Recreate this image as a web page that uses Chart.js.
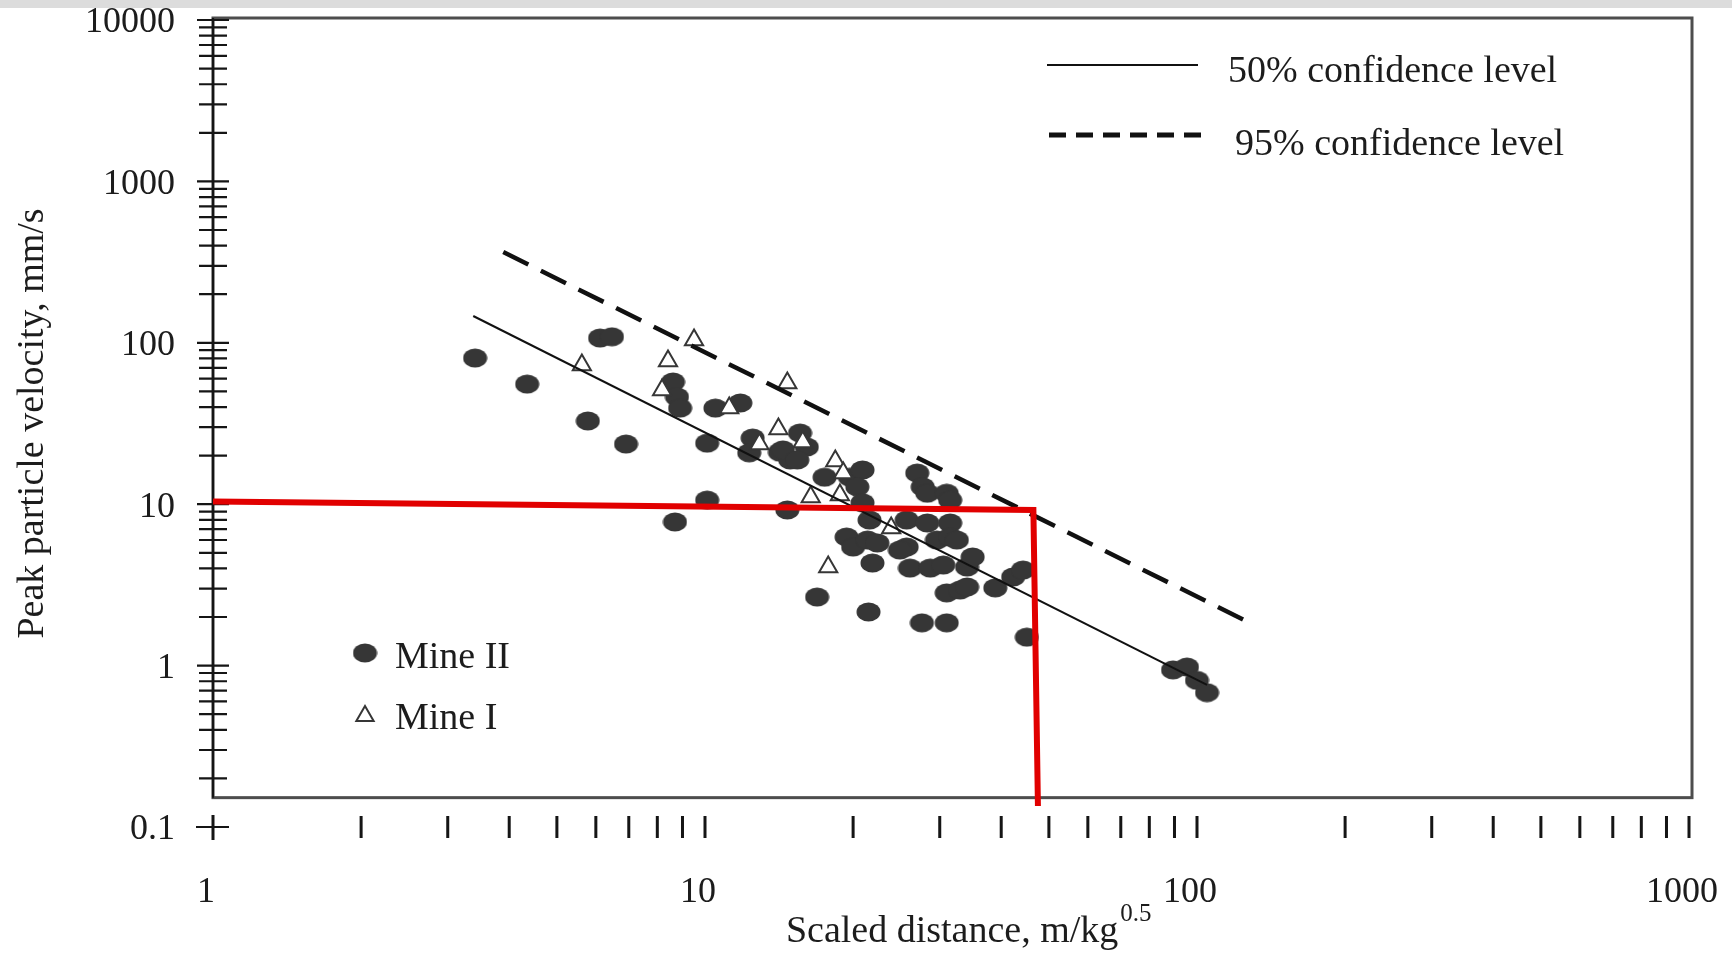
<!DOCTYPE html>
<html>
<head>
<meta charset="utf-8">
<script src="https://cdn.jsdelivr.net/npm/chart.js@4.4.1/dist/chart.umd.min.js"></script>
<style>
  html, body { margin: 0; padding: 0; background: #fff; }
  #wrap { position: relative; width: 1732px; height: 956px; }
  #band { position: absolute; left: 0; top: 0; width: 1732px; height: 8px; background: #dcdcdc; }
</style>
</head>
<body>
<div id="wrap">
  <canvas id="ppvChart" width="1732" height="956"></canvas>
  <div id="band"></div>
</div>
<script>
// axis ticks
const xTicks = [1, 10, 100, 1000];
const yTicks = [0.1, 1, 10, 100, 1000, 10000];

// Mine II (filled dots) - scaled distance / PPV
const mine2X = [3.41, 4.35, 6.12, 6.47, 5.78, 6.91, 8.61, 8.77, 8.90, 10.5, 11.8, 10.1, 12.5, 12.3, 14.2, 14.9,
  10.1, 8.69, 14.7, 14.4, 15.6, 16.1, 15.4, 17.5, 19.7, 20.9, 20.4, 20.9, 19.4, 20.0, 21.6, 21.4, 22.4, 16.9,
  21.9, 21.5, 27.6, 31.0, 27.0, 27.7, 28.3, 31.0, 31.5, 25.7, 28.3, 31.5, 29.6, 31.5, 32.5, 25.7, 24.9, 26.1,
  28.7, 30.5, 34.1, 35.0, 31.0, 33.0, 34.1, 38.9, 42.3, 44.3, 45.1, 89.4, 95.4, 100, 104.8];
const mine2Y = [80.5, 55.5, 107, 109, 32.8, 23.6, 57.2, 46.2, 39.4, 39.4, 42.4, 23.9, 25.7, 20.8, 21.0, 18.8,
  10.6, 7.76, 9.21, 21.7, 27.6, 22.6, 18.8, 14.7, 14.7, 16.3, 12.8, 10.2, 6.26, 5.43, 7.98, 6.0, 5.75, 2.66,
  4.32, 2.15, 1.84, 1.84, 15.6, 12.8, 11.7, 11.7, 10.6, 7.98, 7.65, 7.65, 6.0, 6.26, 6.0, 5.43, 5.20, 4.02,
  4.02, 4.20, 4.08, 4.71, 2.82, 2.94, 3.07, 3.03, 3.54, 3.91, 1.50, 0.94, 0.98, 0.81, 0.68];

// Mine I (open triangles)
const mine1X = [5.62, 8.41, 8.18, 9.50, 11.2, 14.7, 14.1, 12.9, 15.8, 18.4, 19.1, 16.4, 18.8, 23.9, 17.8];
const mine1Y = [72.9, 77.1, 51.0, 104, 39.4, 56.4, 29.2, 23.6, 24.3, 18.5, 15.6, 11.1, 11.4, 7.12, 4.08];

// regression lines
const fit50X = [3.38, 104.8];
const fit50Y = [146.6, 0.759];
const fit95X = [3.89, 125.8];
const fit95Y = [365, 1.89];

// red read-off line
const limitX = [1, 46.5, 47.5];
const limitY = [10.4, 9.2, 0.135];

const pts = (xs, ys) => xs.map((v, i) => ({ x: v, y: ys[i] }));
const serif = '"Liberation Serif", "Times New Roman", serif';
const ink = '#1c1c1c';
const dotColor = '#363636';

// ellipse marker for Mine II
const dot = document.createElement('canvas');
dot.width = 25; dot.height = 20;
const dc = dot.getContext('2d');
dc.fillStyle = dotColor;
dc.beginPath();
dc.ellipse(12.5, 10, 12, 9.5, 0, 0, Math.PI * 2);
dc.fill();

const decor = {
  id: 'decor',
  beforeDatasetsDraw(chart) {
    const { ctx, scales: { x, y } } = chart;
    const ax = x.getPixelForValue(1);
    const y0 = y.getPixelForValue(0.1);
    const fr = x.getPixelForValue(1000) + 3;
    const ft = y.getPixelForValue(10000) - 2;
    const fb = y.getPixelForValue(0.152);
    ctx.save();
    ctx.strokeStyle = '#4d4d4d';
    ctx.lineWidth = 3;
    ctx.strokeRect(ax, ft, fr - ax, fb - ft);

    ctx.strokeStyle = '#151515';
    ctx.lineWidth = 2.2;
    ctx.beginPath();
    ctx.moveTo(ax, ft); ctx.lineTo(ax, fb);
    [0.1, 1, 10, 100, 1000].forEach(d => {
      for (let m = 2; m <= 10; m++) {
        const py = y.getPixelForValue(d * m);
        const h = m === 10 ? 16 : 14;
        ctx.moveTo(ax - h, py); ctx.lineTo(ax + h, py);
      }
    });
    ctx.moveTo(ax - 17, y0); ctx.lineTo(ax + 16, y0);
    ctx.stroke();

    ctx.lineWidth = 3;
    ctx.beginPath();
    ctx.moveTo(ax, y0 - 12); ctx.lineTo(ax, y0 + 13);
    [1, 10, 100].forEach(d => {
      for (let m = 2; m <= 10; m++) {
        const px = x.getPixelForValue(d * m);
        ctx.moveTo(px, y0 - 11); ctx.lineTo(px, y0 + 11);
      }
    });
    ctx.stroke();
    ctx.restore();
  },
  afterDraw(chart) {
    const { ctx, chartArea: a } = chart;
    ctx.save();
    ctx.fillStyle = ink;
    ctx.font = '38px ' + serif;
    ctx.textAlign = 'left';
    ctx.textBaseline = 'middle';

    // line legend
    ctx.strokeStyle = '#111';
    ctx.lineWidth = 2;
    ctx.beginPath(); ctx.moveTo(1047, 65); ctx.lineTo(1198, 65); ctx.stroke();
    ctx.fillText('50% confidence level', 1228, 72);
    ctx.lineWidth = 5;
    ctx.setLineDash([17, 10]);
    ctx.beginPath(); ctx.moveTo(1049, 135); ctx.lineTo(1202, 135); ctx.stroke();
    ctx.setLineDash([]);
    ctx.fillText('95% confidence level', 1235, 145);

    // marker legend
    ctx.drawImage(dot, 365 - 12.5, 653 - 10);
    ctx.fillText('Mine II', 395, 658);
    const r = 10, tx = 365, ty = 716;
    ctx.lineWidth = 2;
    ctx.strokeStyle = dotColor;
    ctx.fillStyle = '#fff';
    ctx.beginPath();
    ctx.moveTo(tx, ty - r);
    ctx.lineTo(tx + r * 0.866, ty + r * 0.5);
    ctx.lineTo(tx - r * 0.866, ty + r * 0.5);
    ctx.closePath();
    ctx.fill(); ctx.stroke();
    ctx.fillStyle = ink;
    ctx.fillText('Mine I', 395, 719);

    // x axis title with superscript
    const main = 'Scaled distance, m/kg';
    ctx.textBaseline = 'alphabetic';
    const w = ctx.measureText(main).width;
    ctx.font = '25px ' + serif;
    const sw = ctx.measureText('0.5').width;
    const cx = a.left + (a.right - a.left) * 0.512;
    const left = cx - (w + 2 + sw) / 2;
    ctx.fillText('0.5', left + w + 2, 921);
    ctx.font = '38px ' + serif;
    ctx.fillText(main, left, 942);
    ctx.restore();
  }
};

new Chart(document.getElementById('ppvChart'), {
  type: 'scatter',
  data: {
    datasets: [
      {
        label: 'read-off',
        data: pts(limitX, limitY),
        showLine: true,
        borderColor: '#e10000',
        borderWidth: 6,
        pointRadius: 0,
        borderJoinStyle: 'miter',
        clip: false
      },
      {
        label: '50% confidence level',
        data: pts(fit50X, fit50Y),
        showLine: true,
        borderColor: '#111',
        borderWidth: 2,
        pointRadius: 0
      },
      {
        label: '95% confidence level',
        data: pts(fit95X, fit95Y),
        showLine: true,
        borderColor: '#111',
        borderWidth: 4.5,
        borderDash: [28, 14],
        pointRadius: 0
      },
      {
        label: 'Mine I',
        data: pts(mine1X, mine1Y),
        pointStyle: 'triangle',
        pointRadius: 10.5,
        backgroundColor: '#fff',
        borderColor: dotColor,
        borderWidth: 2
      },
      {
        label: 'Mine II',
        data: pts(mine2X, mine2Y),
        pointStyle: dot,
        pointRadius: 12,
        backgroundColor: dotColor,
        borderColor: dotColor
      }
    ]
  },
  options: {
    responsive: false,
    animation: false,
    layout: { autoPadding: false, padding: { top: 20, right: 43, left: 0, bottom: 0 } },
    plugins: { legend: { display: false }, tooltip: { enabled: false } },
    scales: {
      x: {
        type: 'logarithmic',
        min: 1,
        max: 1000,
        afterBuildTicks: s => { s.ticks = xTicks.map(v => ({ value: v })); },
        afterFit: s => { s.height = 129; s.paddingLeft = 0; s.paddingRight = 0; },
        grid: { display: false, drawTicks: false },
        border: { display: false },
        ticks: {
          callback: v => String(v),
          font: { family: serif, size: 36, lineHeight: 1 },
          color: ink,
          padding: 48,
          labelOffset: -7,
          maxRotation: 0,
          autoSkip: false
        }
      },
      y: {
        type: 'logarithmic',
        min: 0.1,
        max: 10000,
        afterBuildTicks: s => { s.ticks = yTicks.map(v => ({ value: v })); },
        afterFit: s => { s.width = 213; s.paddingTop = 0; s.paddingBottom = 0; },
        grid: { display: false, drawTicks: false },
        border: { display: false },
        ticks: {
          callback: v => String(v),
          font: { family: serif, size: 36, lineHeight: 1 },
          color: ink,
          padding: 38,
          labelOffset: 3,
          autoSkip: false
        },
        title: {
          display: true,
          text: 'Peak particle velocity, mm/s',
          font: { family: serif, size: 38 },
          color: ink,
          padding: { top: 10, bottom: 0 }
        }
      }
    }
  },
  plugins: [decor]
});
</script>
</body>
</html>
